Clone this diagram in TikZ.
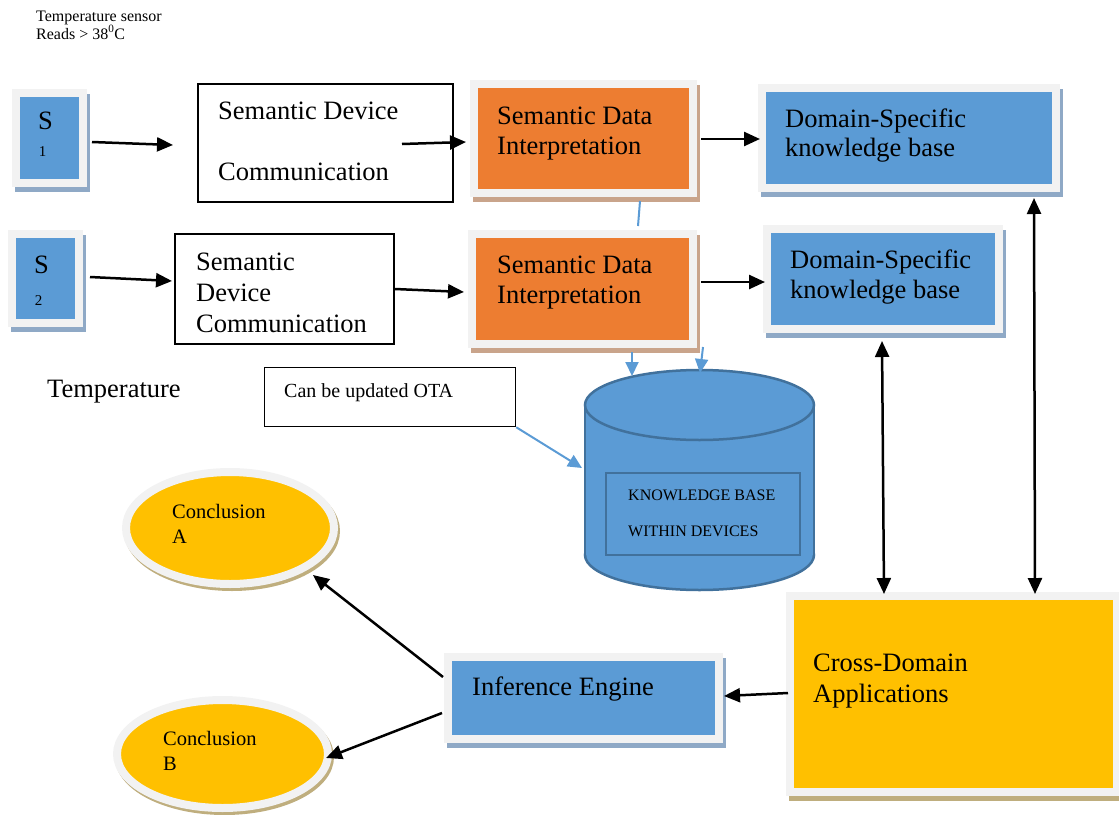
\documentclass[tikz,border=0pt]{standalone}
\usepackage{fontspec}
\setmainfont{Liberation Serif}
\usetikzlibrary{arrows.meta,shapes.geometric}

\definecolor{cblue}{HTML}{5B9BD5}
\definecolor{corange}{HTML}{ED7D31}
\definecolor{cyellow}{HTML}{FFC000}
\definecolor{framegray}{HTML}{F2F2F2}
\definecolor{bshade}{HTML}{8FA9C6}
\definecolor{oshade}{HTML}{C9A48B}
\definecolor{yshade}{HTML}{BFAE7E}
\definecolor{kbedge}{HTML}{41719C}

\newcommand\fsz[1]{\fontsize{#1}{#1}\selectfont}

\tikzset{
  card/.style={draw=framegray, line width=8pt, inner sep=0pt},
  shade/.style={preaction={fill=#1, draw=#1, line width=8pt,
      transform canvas={shift={(3pt,-5pt)}}}},
  bluecard/.style={card, fill=cblue, shade=bshade},
  orangecard/.style={card, fill=corange, shade=oshade},
  yellowcard/.style={card, fill=cyellow, shade=yshade},
  oval/.style={ellipse, draw=framegray, line width=8pt, inner sep=0pt, fill=cyellow,
      preaction={fill=yshade, draw=yshade, line width=8pt,
      transform canvas={shift={(2pt,-3pt)}}}},
  plainbox/.style={draw=black, line width=2pt, fill=white, inner sep=0pt},
  txt/.style={inner sep=0pt, anchor=base west, font=\fsz{26.5}},
  arr/.style={draw=black, line width=2.5pt, -{Triangle[length=16pt,width=14pt]}},
  dbl/.style={draw=black, line width=2.5pt, {Triangle[length=16pt,width=14pt]}-{Triangle[length=16pt,width=14pt]}},
  barr/.style={draw=cblue, line width=2pt, -{Triangle[length=14pt,width=13pt]}},
  bline/.style={draw=cblue, line width=2pt},
}

\begin{document}
\begin{tikzpicture}[x=1pt,y=-1pt]
\useasboundingbox (0,0) rectangle (1119,814);

% heading note
\node[txt, font=\fsz{16}] (note1) at (36,21) {Temperature sensor};
\node[txt, font=\fsz{16}] (note2) at (36,39) {Reads > 38\textsuperscript{0}C};

% sensors
\node[bluecard, minimum width=67pt, minimum height=90pt] (s1) at (49.5,138) {};
\node[inner sep=0pt, font=\fsz{26.5}] (s1a) at (45.5,121) {S};
\node[inner sep=0pt, font=\fsz{15}] (s1b) at (42.5,152) {1};

\node[bluecard, minimum width=67pt, minimum height=89pt] (s2) at (45.5,278.5) {};
\node[inner sep=0pt, font=\fsz{26.5}] (s2a) at (41.5,265) {S};
\node[inner sep=0pt, font=\fsz{15}] (s2b) at (38.5,301) {2};

\node[txt] (temp) at (47,397) {Temperature};

% semantic device communication
\node[plainbox, minimum width=255pt, minimum height=118pt] (sdc1) at (325.5,143) {};
\node[txt] (sdc1a) at (218,119) {Semantic Device};
\node[txt] (sdc1b) at (218,180) {Communication};

\node[plainbox, minimum width=219pt, minimum height=110pt] (sdc2) at (284.5,289) {};
\node[txt] (sdc2a) at (196,270) {Semantic};
\node[txt] (sdc2b) at (196,301) {Device};
\node[txt] (sdc2c) at (196,332) {Communication};

% semantic data interpretation
\node[orangecard, minimum width=219pt, minimum height=109pt] (sdi1) at (583.5,138.5) {};
\node[txt] (sdi1a) at (497,124) {Semantic Data};
\node[txt] (sdi1b) at (497,154) {Interpretation};

\node[orangecard, minimum width=221pt, minimum height=110pt] (sdi2) at (582.5,289) {};
\node[txt] (sdi2a) at (497,273) {Semantic Data};
\node[txt] (sdi2b) at (497,303) {Interpretation};

% domain-specific knowledge bases
\node[bluecard, minimum width=294pt, minimum height=100pt] (ds1) at (909,138) {};
\node[txt] (ds1a) at (785,127) {Domain-Specific};
\node[txt] (ds1b) at (785,156) {knowledge base};

\node[bluecard, minimum width=232pt, minimum height=100pt] (ds2) at (883,279) {};
\node[txt] (ds2a) at (790,268) {Domain-Specific};
\node[txt] (ds2b) at (790,298) {knowledge base};

% OTA note
\node[plainbox, line width=1.5pt, minimum width=251pt, minimum height=59pt] (ota) at (390,397) {};
\node[txt, font=\fsz{20}] (otat) at (284,397) {Can be updated OTA};

% knowledge base cylinder
\fill[cblue] (699.5,555) ellipse[x radius=114.5, y radius=35];
\draw[kbedge, line width=2.5pt] (699.5,555) ellipse[x radius=114.5, y radius=35];
\fill[cblue] (585,405) rectangle (814,555);
\draw[kbedge, line width=2.5pt] (585,405) -- (585,555) (814,405) -- (814,555);
\draw[kbedge, line width=2.5pt, fill=cblue] (699.5,405) ellipse[x radius=114.5, y radius=35];
\node[draw=kbedge, line width=2.5pt, inner sep=0pt, minimum width=194pt, minimum height=82pt] (kb) at (703,514) {};
\node[txt, font=\fsz{16}] (kba) at (628,500) {KNOWLEDGE BASE};
\node[txt, font=\fsz{16}] (kbb) at (628,536) {WITHIN DEVICES};

% cross-domain applications
\node[yellowcard, minimum width=327pt, minimum height=196pt] (cd) at (953.5,694) {};
\node[txt] (cda) at (813,671) {Cross-Domain};
\node[txt] (cdb) at (813,702) {Applications};

% inference engine
\node[bluecard, minimum width=271pt, minimum height=82pt] (inf) at (583.5,698) {};
\node[txt] (inft) at (472,695) {Inference Engine};

% conclusions
\node[oval, minimum width=208pt, minimum height=112pt] (ca) at (230,528) {};
\node[txt, font=\fsz{20.5}] (caa) at (172,518) {Conclusion};
\node[txt, font=\fsz{20.5}] (cab) at (172,543) {A};

\node[oval, minimum width=211pt, minimum height=108pt] (cb) at (222.5,754) {};
\node[txt, font=\fsz{20.5}] (cba) at (163,745) {Conclusion};
\node[txt, font=\fsz{20.5}] (cbb) at (163,770) {B};

% free connector ends
\coordinate (c1) at (173,145);
\coordinate (c2) at (402,144);
\coordinate (c3) at (172,281);
\coordinate (k1) at (632,376);
\coordinate (k2) at (700,373);
\coordinate (k3) at (582,468);
\coordinate (ea) at (313,575);
\coordinate (eb) at (326,758);

% connectors
\draw[arr] ([shift={(5,4)}]s1.east) -- (c1);
\draw[arr] (c2) -- ([shift={(-4,3.5)}]sdi1.west);
\draw[arr] ([shift={(7,-1.5)}]s2.east) -- (c3);
\draw[arr] (sdc2.east) -- ([shift={(-4,3)}]sdi2.west);
\draw[arr] ([shift={(4,0.5)}]sdi1.east) -- ([shift={(2,1)}]ds1.west);
\draw[arr] ([shift={(4,-7)}]sdi2.east) -- ([shift={(2,3)}]ds2.west);

\draw[bline] ([shift={(56.5,4)}]sdi1.south) -- ([shift={(55.5,-4)}]sdi2.north);
\draw[barr] ([shift={(49.5,4)}]sdi2.south) -- (k1);
\draw[barr] ([shift={(120.5,-1)}]sdi2.south) -- (k2);
\draw[barr] (ota.south east) -- (k3);

\draw[dbl] ([shift={(-1,8)}]ds2.south) -- ([shift={(-69.5,2)}]cd.north);
\draw[dbl] ([shift={(125,6)}]ds1.south) -- ([shift={(81.5,2)}]cd.north);

\draw[arr] ([shift={(2,-1)}]cd.west) -- ([shift={(1,-2)}]inf.east);
\draw[arr] ([shift={(-1,-21)}]inf.west) -- (ea);
\draw[arr] ([shift={(-2,15)}]inf.west) -- (eb);
\end{tikzpicture}
\end{document}
